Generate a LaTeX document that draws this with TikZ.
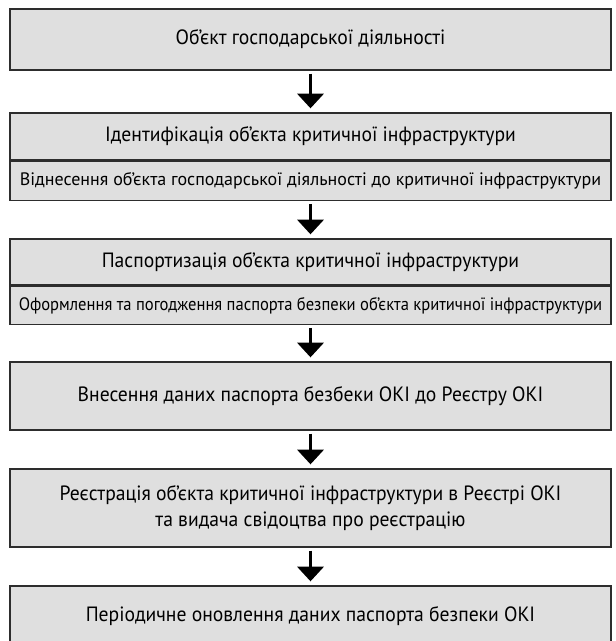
\documentclass[tikz,border=0pt]{standalone}
\usepackage{fontspec}
\setmainfont{PT Sans}[FakeStretch=0.95]
\newfontfamily\detailfont{PT Sans}
\newfontfamily\narrowfont{PT Sans}[FakeStretch=0.92]
\usepackage{tikz}
\usetikzlibrary{positioning}
\usetikzlibrary{arrows.meta}

\definecolor{boxgray}{RGB}{223,223,223}
\definecolor{linegray}{RGB}{45,45,45}

\tikzset{
	stage/.style={draw=linegray, fill=boxgray, line width=1pt, inner sep=0pt,
		minimum width=450.75pt, align=center, font=\fontsize{15.5}{19}\selectfont},
	detail/.style={stage, font=\detailfont\fontsize{13.5}{16}\selectfont},
	flow/.style={line width=2.7pt, -{Triangle[width=19.5pt,length=11pt]},
		shorten <=2.2pt, shorten >=3pt}
}

\begin{document}
\begin{tikzpicture}[x=0.75pt,y=-0.75pt]
	\useasboundingbox (0,0) rectangle (615,641);
	\clip (0,0) rectangle (615,641);

	\node[stage, minimum height=45.75pt] (obj) at (310.5,39.5) {Об’єкт господарської діяльності};

	\node[stage, minimum height=35.25pt] (ident) at (310.5,136.5) {Ідентифікація об’єкта критичної інфраструктури};
	\node[detail, minimum height=29.25pt, below=0pt of ident] (identsub) {Віднесення об’єкта господарської діяльності до критичної інфраструктури};

	\node[stage, minimum height=34.5pt] (pasp) at (310.5,262) {Паспортизація об’єкта критичної інфраструктури};
	\node[detail, minimum height=28.5pt, below=0pt of pasp, font=\narrowfont\fontsize{13.5}{16}\selectfont] (paspsub) {Оформлення та погодження паспорта безпеки об’єкта критичної інфраструктури};

	\node[stage, minimum height=51pt] (vnes) at (310.5,396) {Внесення даних паспорта безбеки ОКІ до Реєстру ОКІ};

	\node[stage, minimum height=58.5pt] (reestr) at (310.5,508) {Реєстрація об’єкта критичної інфраструктури в Реєстрі ОКІ\\та видача свідоцтва про реєстрацію};

	\node[stage, minimum height=45pt] (onovl) at (310.5,616) {Періодичне оновлення даних паспорта безпеки ОКІ};

	\draw[flow] (obj) -- (ident);
	\draw[flow] (identsub) -- (pasp);
	\draw[flow] (paspsub) -- (vnes);
	\draw[flow] (vnes) -- (reestr);
	\draw[flow] (reestr) -- (onovl);
\end{tikzpicture}
\end{document}
